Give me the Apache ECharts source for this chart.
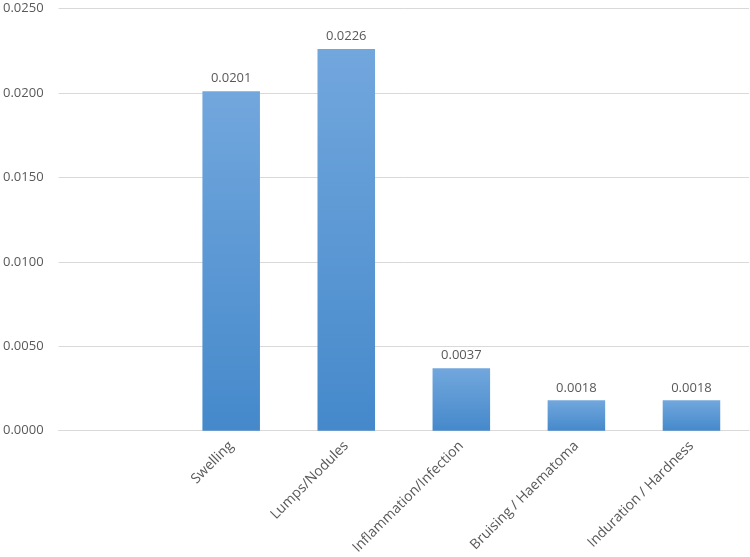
<!DOCTYPE html>
<html><head><meta charset="utf-8">
<script src="https://cdn.jsdelivr.net/npm/echarts@6/dist/echarts.min.js"></script>
<style>html,body{margin:0;padding:0;background:#fff}#c{width:750px;height:557px}</style>
</head><body><div id="c"></div>
<script>
const categories = ['', 'Swelling', 'Lumps/Nodules', 'Inflammation/Infection', 'Bruising / Haematoma', 'Induration / Hardness'];
const values = [null, 0.0201, 0.0226, 0.0037, 0.0018, 0.0018];
const yMin = 0, yMax = 0.025, yStep = 0.005;

const chart = echarts.init(document.getElementById('c'), null, {renderer: 'canvas'});
chart.setOption({
  animation: false,
  backgroundColor: '#fff',
  grid: {left: 58.5, right: 1, top: 8.5, bottom: 125.5, containLabel: false},
  xAxis: {
    type: 'category', data: categories,
    axisLine: {show: true, lineStyle: {color: '#d9d9d9', width: 1}},
    axisTick: {show: false},
    axisLabel: {rotate: 45, interval: 0, margin: 13, color: '#595959', fontSize: 14, fontFamily: 'Open Sans'}
  },
  yAxis: {
    type: 'value', min: yMin, max: yMax, interval: yStep,
    axisLine: {show: false}, axisTick: {show: false},
    splitLine: {lineStyle: {color: '#d9d9d9', width: 1}},
    axisLabel: {margin: 15, color: '#595959', fontSize: 13, fontFamily: 'Open Sans',
      formatter: v => v.toFixed(4)}
  },
  series: [{
    type: 'bar', data: values, barWidth: '50%',
    itemStyle: {color: new echarts.graphic.LinearGradient(0, 0, 0, 1, [
      {offset: 0, color: '#72a7dd'}, {offset: 1, color: '#4589cb'}])},
    label: {show: true, position: 'top', distance: 6, color: '#595959', fontSize: 13, fontFamily: 'Open Sans',
      formatter: p => p.value == null ? '' : p.value.toFixed(4)}
  }]
});
</script></body></html>
